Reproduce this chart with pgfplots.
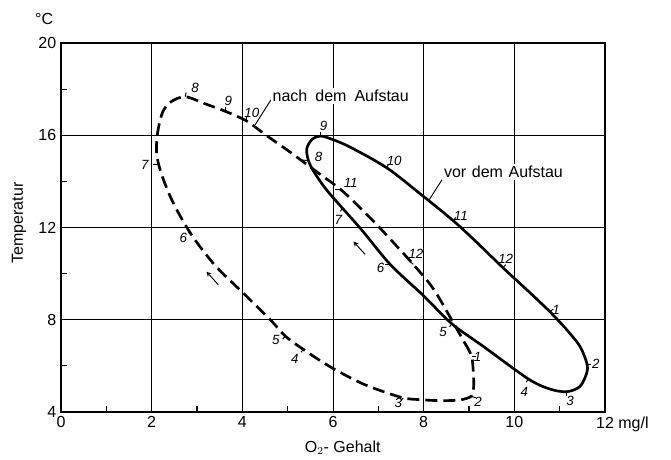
\documentclass[border=0pt]{standalone}
\usepackage{fontspec}
\setmainfont{Liberation Sans}
\usepackage{pgfplots}
\pgfplotsset{compat=1.18}
\newcommand{\mf}{\fontsize{10}{11}\selectfont\itshape}
\newcommand{\lf}{\fontsize{12}{14}\selectfont}
\begin{document}
\begin{tikzpicture}
\begin{axis}[
 scale only axis, width=408pt, height=276.3pt,
 xmin=0,xmax=12,ymin=4,ymax=20,
 axis line style={line width=1.3pt},
 xtick={0,2,...,12}, xticklabels={0,2,4,6,8,10,12\rlap{\ mg/l}},
 ytick={4,8,...,20},
 minor xtick={1,3,...,11}, minor ytick={6,10,14,18},
 grid=major, major grid style={black, line width=0.7pt},
 tick align=inside, tick pos=left, major tick length=0pt, minor tick length=4.5pt,
 minor tick style={line width=0.9pt, black},
 ticklabel style={font=\lf},
 /pgf/number format/assume math mode=true,
 clip=false,
]
% bounding box
\path (rel axis cs:-0.1121,-0.131) rectangle (rel axis cs:1.1213,1.1175);
% nach dem Aufstau (dashed)
\addplot[black, line width=2pt, dash pattern=on 9pt off 4.5pt, smooth, tension=0.5] coordinates {
(8.91,6.97) (9.06,6.39) (9.1,5.5) (9.1,5.02) (9.06,4.68) (8.8,4.51) (8.36,4.48) (7.95,4.52) (7.51,4.62)
(6.67,5.2) (5.93,5.96) (5.35,6.7) (4.95,7.28) (4.61,8.01) (4.02,9.15) (3.4,10.35) (2.88,11.68)
(2.48,13.05) (2.22,14.3) (2.11,15.2) (2.13,16.1) (2.24,17.0) (2.42,17.45) (2.74,17.68)
(3.21,17.35) (3.62,17.05) (4.1,16.62) (4.5,16.04) (5.05,15.28) (5.64,14.42) (6.17,13.65) (6.6,12.85)
(7.04,11.97) (7.4,11.2) (7.77,10.4) (8.21,9.35) (8.62,7.98) (8.91,6.97)
};
% vor dem Aufstau (solid)
\addplot[black, line width=2pt, smooth, tension=0.5] coordinates {
(10.3,9.25) (10.78,8.35) (11.16,7.55) (11.45,6.83) (11.6,6.1) (11.6,5.7) (11.45,5.1) (11.16,4.87)
(10.79,4.98) (10.31,5.42) (9.32,6.83) (8.62,7.82) (7.99,9.05) (7.26,10.4) (6.6,11.97)
(5.86,13.63) (5.5,14.7) (5.42,15.4) (5.55,15.85) (5.73,15.97) (5.95,15.85) (6.37,15.5) (7.18,14.6)
(7.9,13.5) (8.65,12.3) (9.2,11.3) (9.75,10.25) (10.3,9.25)
};
% month ticks
\addplot[black, line width=0.7pt, quiver={u=\thisrow{u},v=\thisrow{v}}] table {
x y u v
2.74 17.68 0.02 0.18
3.62 17.05 0 0.2
4.10 16.62 0 0.2
2.14 14.72 -0.12 0
2.88 11.68 -0.07 0.1
4.95 7.28 -0.06 -0.12
5.35 6.70 -0.06 -0.12
7.55 4.60 -0.05 -0.12
9.06 4.66 0.1 -0.06
9.06 6.39 0.1 0
7.77 10.40 -0.07 0.12
6.17 13.65 -0.12 0
5.73 15.97 0 0.18
5.47 14.90 -0.15 0.03
6.21 12.84 -0.05 -0.14
7.18 14.60 0.05 0.15
8.65 12.30 0.06 0.14
9.75 10.25 0.06 0.14
10.78 8.35 0.08 0.1
11.60 6.03 0.1 0
11.16 4.87 0 -0.18
10.31 5.42 -0.05 -0.14
8.62 7.82 -0.05 -0.14
7.26 10.40 -0.12 0
};
% month labels, dashed
\node[font=\mf] at (axis cs:2.96,18.06) {8};
\node[font=\mf] at (axis cs:3.69,17.48) {9};
\node[font=\mf] at (axis cs:4.21,16.98) {10};
\node[font=\mf] at (axis cs:1.85,14.72) {7};
\node[font=\mf] at (axis cs:2.70,11.53) {6};
\node[font=\mf] at (axis cs:4.74,7.10) {5};
\node[font=\mf] at (axis cs:5.16,6.30) {4};
\node[font=\mf] at (axis cs:7.44,4.37) {3};
\node[font=\mf] at (axis cs:9.20,4.44) {2};
\node[font=\mf] at (axis cs:9.19,6.39) {1};
\node[font=\mf] at (axis cs:7.83,10.85) {12};
\node[font=\mf] at (axis cs:6.39,13.92) {11};
% month labels, solid
\node[font=\mf] at (axis cs:5.79,16.40) {9};
\node[font=\mf] at (axis cs:5.68,15.08) {8};
\node[font=\mf] at (axis cs:6.12,12.33) {7};
\node[font=\mf] at (axis cs:7.35,14.88) {10};
\node[font=\mf] at (axis cs:8.82,12.49) {11};
\node[font=\mf] at (axis cs:9.81,10.64) {12};
\node[font=\mf] at (axis cs:10.92,8.44) {1};
\node[font=\mf] at (axis cs:11.80,6.10) {2};
\node[font=\mf] at (axis cs:11.23,4.49) {3};
\node[font=\mf] at (axis cs:10.22,4.87) {4};
\node[font=\mf] at (axis cs:8.43,7.46) {5};
\node[font=\mf] at (axis cs:7.05,10.23) {6};
% text labels with leaders
\draw[line width=0.7pt] (axis cs:4.28,16.45) -- (axis cs:4.63,17.54);
\node[fill=white, inner sep=1.5pt, anchor=west, font=\lf] at (axis cs:4.62,17.71) {nach\hspace{0.5em}dem\hspace{0.5em}Aufstau};
\draw[line width=0.7pt] (axis cs:8.12,13.2) -- (axis cs:8.43,14.15);
\node[fill=white, inner sep=1.5pt, anchor=west, font=\lf] at (axis cs:8.40,14.41) {vor\hspace{0.35em}dem\hspace{0.35em}Aufstau};
% arrows
\draw[line width=0.7pt, -stealth] (axis cs:3.47,9.51) -- (axis cs:3.21,10.08);
\draw[line width=0.7pt, -stealth] (axis cs:6.71,10.83) -- (axis cs:6.45,11.39);
% axis titles
\node[rotate=90, font=\lf] at (rel axis cs:-0.077,0.512) {Temperatur};
\node[font=\lf] at (rel axis cs:0.518,-0.0985) {O$_2$- Gehalt};
\node[font=\lf] at (rel axis cs:-0.031,1.066) {°C};
\end{axis}
\end{tikzpicture}
\end{document}
